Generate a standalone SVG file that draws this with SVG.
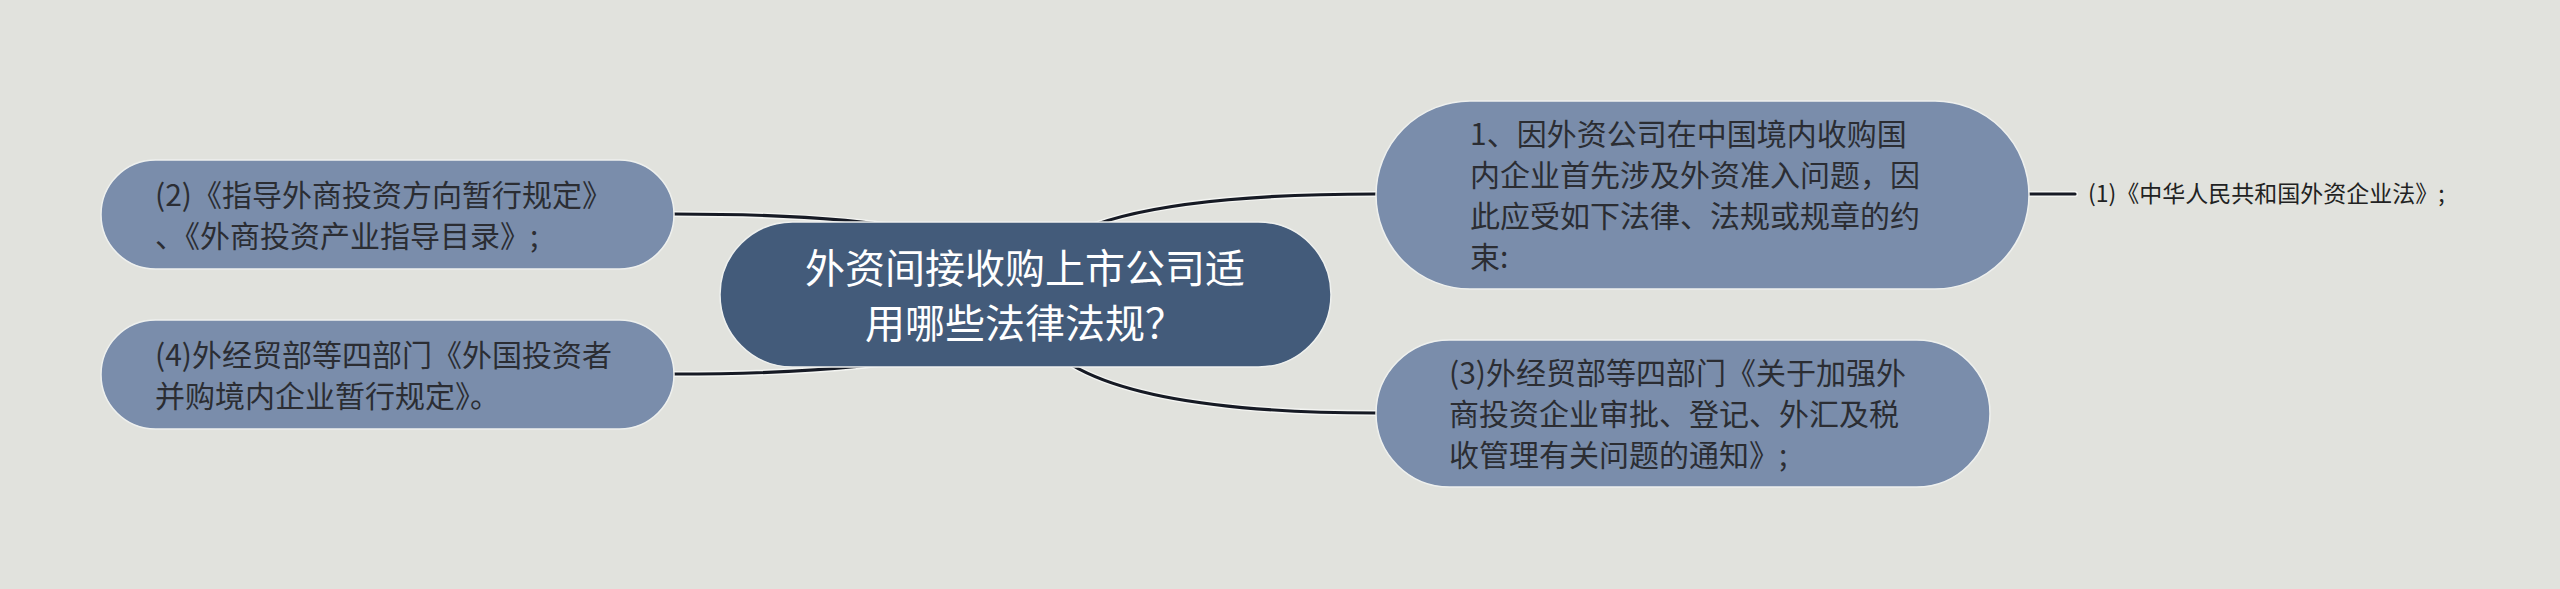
<svg xmlns="http://www.w3.org/2000/svg" width="2560" height="589" viewBox="0 0 2560 589">
<style>
.bg{fill:#e1e2dd}
.halo{fill:none;stroke:#f4f5f2;stroke-width:6;stroke-linecap:round}
.line{fill:none;stroke:#161a24;stroke-width:3.2;stroke-linecap:round}
.root{fill:#435b7a;stroke:#eef0ee;stroke-width:1.5}
.child{fill:#7a8dab;stroke:#eef0ee;stroke-width:1.5}
text{font-family:"Noto Sans CJK SC","Noto Sans",sans-serif}
.rt{fill:#ffffff;font-size:40px}
.ct{fill:#2b2d33;font-size:30px}
.lt{fill:#222222;font-size:23px}
</style>
<rect class="bg" x="0" y="0" width="2560" height="589"/>
<g id="connectors">
<path class="halo" d="M1025 294 Q1025 214 674 214"/>
<path class="line" d="M1025 294 Q1025 214 674 214"/>
<path class="halo" d="M1025 294 Q1025 374 674 374"/>
<path class="line" d="M1025 294 Q1025 374 674 374"/>
<path class="halo" d="M1025 294 Q1025 194 1376 194"/>
<path class="line" d="M1025 294 Q1025 194 1376 194"/>
<path class="halo" d="M1025 294 Q1025 413 1376 413"/>
<path class="line" d="M1025 294 Q1025 413 1376 413"/>
<path class="halo" d="M2029 194 L2075 194"/>
<path class="line" d="M2029 194 L2075 194"/>
</g>
<g id="root">
<rect class="root" x="720" y="222" width="611" height="145" rx="72.5"/>
<text class="rt" x="1025" y="283" text-anchor="middle">外资间接收购上市公司适</text>
<text class="rt" x="1025" y="338" text-anchor="middle">用哪些法律法规？</text>
</g>
<g id="left1">
<rect class="child" x="101" y="160" width="573" height="109" rx="54.5"/>
<text class="ct" x="155" y="206">(2)《指导外商投资方向暂行规定》</text>
<text class="ct" x="155" y="247">、《外商投资产业指导目录》;</text>
</g>
<g id="left2">
<rect class="child" x="101" y="320" width="573" height="109" rx="54.5"/>
<text class="ct" x="155" y="366">(4)外经贸部等四部门《外国投资者</text>
<text class="ct" x="155" y="407">并购境内企业暂行规定》。</text>
</g>
<g id="right1">
<rect class="child" x="1376" y="101" width="653" height="188" rx="94"/>
<text class="ct" x="1470" y="145">1、因外资公司在中国境内收购国</text>
<text class="ct" x="1470" y="186">内企业首先涉及外资准入问题，因</text>
<text class="ct" x="1470" y="227">此应受如下法律、法规或规章的约</text>
<text class="ct" x="1470" y="268">束:</text>
</g>
<g id="right2">
<rect class="child" x="1376" y="340" width="614" height="147" rx="73.5"/>
<text class="ct" x="1449" y="384">(3)外经贸部等四部门《关于加强外</text>
<text class="ct" x="1449" y="425">商投资企业审批、登记、外汇及税</text>
<text class="ct" x="1449" y="466">收管理有关问题的通知》;</text>
</g>
<g id="leaf1">
<text class="lt" x="2088" y="202">(1)《中华人民共和国外资企业法》;</text>
</g>
</svg>
